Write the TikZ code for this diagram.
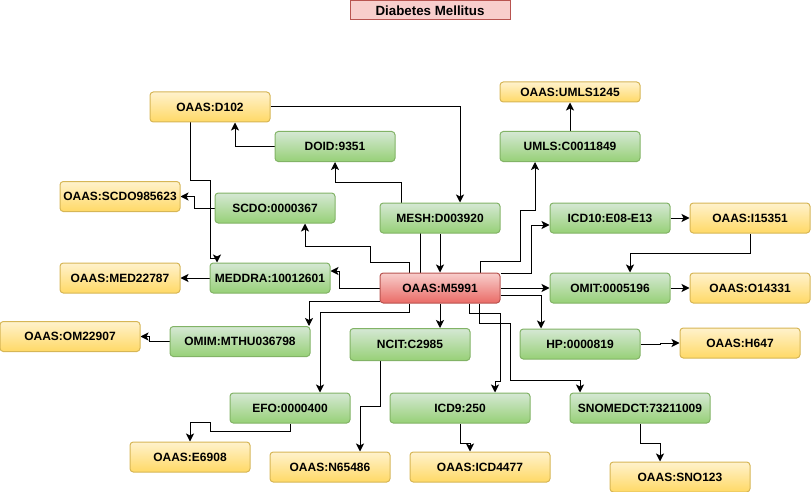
\documentclass[tikz,border=0pt]{standalone}
\usepackage{fontspec}
\setmainfont{Liberation Sans}
\usetikzlibrary{arrows.meta, calc, positioning}
\definecolor{gtop}{HTML}{D5E8D4}
\definecolor{gbot}{HTML}{97D077}
\definecolor{gline}{HTML}{82B366}
\definecolor{ytop}{HTML}{FFF2CC}
\definecolor{ybot}{HTML}{FFD966}
\definecolor{yline}{HTML}{D6B656}
\definecolor{rtop}{HTML}{F8CECC}
\definecolor{rbot}{HTML}{EA6B66}
\definecolor{rline}{HTML}{B85450}
\pgfdeclarelayer{bg}
\pgfsetlayers{bg,main}

\begin{document}
\begin{tikzpicture}[x=0.75pt, y=-0.75pt,
    every node/.style = {rounded corners=2.5pt, line width=0.75pt, inner sep=0pt,
      minimum width=90pt, minimum height=22.5pt, font=\bfseries\fontsize{9}{11}\selectfont},
    grn/.style = {draw=gline, top color=gtop, bottom color=gbot},
    ylw/.style = {draw=yline, top color=ytop, bottom color=ybot},
    rd/.style = {draw=rline, top color=rtop, bottom color=rbot},
    wide/.style = {minimum width=105pt},
    arr/.style = {line width=0.75pt, -{Stealth[length=6pt, width=6pt, inset=1.5pt]}}]
  \useasboundingbox (0,0) rectangle (811,492);

  \node[sharp corners, draw=rline, fill=rtop, minimum width=120pt, minimum height=14.25pt,
    font=\bfseries\fontsize{10}{12}\selectfont] (title) at (430,10.5) {Diabetes Mellitus};

  \node[rd] (m5991) at (440,288) {OAAS:M5991};

  \node[ylw] (d102) at (210,107) {OAAS:D102};
  \node[grn] (doid) at (335,146.5) {DOID:9351};
  \node[ylw] (scdoO) at (120,196.5) {OAAS:SCDO985623};
  \node[grn] (scdo) at (275,208) {SCDO:0000367};
  \node[grn] (meddra) at (270,278) {MEDDRA:10012601};
  \node[ylw] (medO) at (120,278) {OAAS:MED22787};
  \node[grn] (mesh) at (440,218) {MESH:D003920};
  \node[ylw, wide, minimum height=15pt] (umlsO) at (570,92) {OAAS:UMLS1245};
  \node[grn, wide] (umls) at (570,146.5) {UMLS:C0011849};
  \node[grn] (icd10) at (610,218) {ICD10:E08-E13};
  \node[ylw] (icdO) at (750,218) {OAAS:I15351};
  \node[grn] (omit) at (610,288) {OMIT:0005196};
  \node[ylw] (omitO) at (750,288) {OAAS:O14331};
  \node[grn, wide] (omim) at (240,341.5) {OMIM:MTHU036798};
  \node[ylw, wide] (omimO) at (70,336.5) {OAAS:OM22907};
  \node[grn, minimum height=24pt] (ncit) at (410,344.5) {NCIT:C2985};
  \node[grn] (hp) at (580,344) {HP:0000819};
  \node[ylw] (hpO) at (740,343) {OAAS:H647};
  \node[grn] (efo) at (290,408) {EFO:0000400};
  \node[ylw] (efoO) at (190,457) {OAAS:E6908};
  \node[ylw] (ncitO) at (330,467) {OAAS:N65486};
  \node[grn, wide] (icd9) at (460,408) {ICD9:250};
  \node[grn, wide] (snomed) at (640,408) {SNOMEDCT:73211009};
  \node[ylw, wide] (icd9O) at (480,467) {OAAS:ICD4477};
  \node[ylw, wide] (snomedO) at (680,477) {OAAS:SNO123};

  \begin{pgfonlayer}{bg}
    \draw[arr] (doid.west) -| ($(d102.south)+(25,0)$);
    \draw[arr] (d102.east) -| ($(mesh.north)+(20,0)$);
    \draw[arr] ($(d102.south)+(-20,0)$) -- ++(0,58) -| ++(20,78) -| ($(meddra.north)+(-53,0)$);
    \draw[arr] (scdo.west) -- ++(-20,0) |- (scdoO.east);
    \draw[arr] (meddra.west) -- (medO.east);
    \draw[arr] ($(m5991.north)+(-31,0)$) -- ++(0,-10) -| ++(-39,-16) -| ($(scdo.south)+(30,0)$);
    \draw[arr] ($(m5991.north)+(-20,0)$) -- ++(0,-65) -| ++(-19,-25) -| (doid.south);
    \draw[arr] (mesh.south) -- (m5991.north);
    \draw[arr] ($(m5991.north)+(40,0)$) -- ++(0,-11) -| ++(40,-51) -| ($(umls.south)+(-35,0)$);
    \draw[arr] (umls.north) -- (umlsO.south);
    \draw[arr] ($(m5991.east)+(0,-15)$) -- ++(31,0) |- ($(icd10.west)+(0,7)$);
    \draw[arr] (icd10.east) -- (icdO.west);
    \draw[arr] (icdO.south) -- ++(0,20) -| ($(omit.north)+(20,0)$);
    \draw[arr] (m5991.east) -- (omit.west);
    \draw[arr] (omit.east) -- (omitO.west);
    \draw[arr] ($(m5991.east)+(0,7)$) -| ($(hp.north)+(-39,0)$);
    \draw[arr] (hp.east) -- ++(20,0) |- (hpO.west);
    \draw[arr] (m5991.south) -- (m5991.south |- ncit.north);
    \draw[arr] ($(m5991.south)+(29,0)$) -- ++(0,10) -| ++(31,68) -| ($(icd9.north)+(35,0)$);
    \draw[arr] ($(m5991.south)+(39,0)$) -- ++(0,20) -| ++(31,57) -| ($(snomed.north)+(-60,0)$);
    \draw[arr] (m5991.west) -- ++(-40,0) |- ($(meddra.east)+(0,-7)$);
    \draw[arr] ($(m5991.west)+(0,13)$) -| ($(omim.north)+(69,0)$);
    \draw[arr] ($(m5991.south)+(-31,0)$) -- ++(0,9) -| ($(efo.north)+(30,0)$);
    \draw[arr] (omim.west) -- ++(-20,0) |- (omimO.east);
    \draw[arr] (efo.south) -- ++(0,8) -| ++(-80,-9) -| (efoO.north);
    \draw[arr] ($(ncit.south)+(-30,0)$) -- ++(0,45) -| ($(ncitO.north)+(30,0)$);
    \draw[arr] (icd9.south) -- ++(0,20) -| ($(icd9O.north)+(-10,0)$);
    \draw[arr] (snomed.south) -- ++(0,20) -| ($(snomedO.north)+(-20,0)$);
  \end{pgfonlayer}
\end{tikzpicture}
\end{document}
